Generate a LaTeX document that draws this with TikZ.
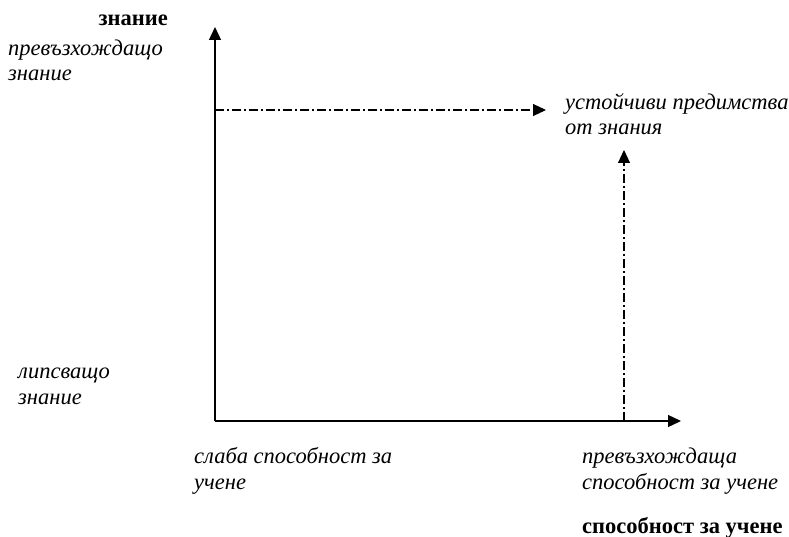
\documentclass[tikz,border=0pt]{standalone}
\usepackage{fontspec}
\setmainfont{Liberation Serif}
\usetikzlibrary{arrows.meta}
\begin{document}
\begin{tikzpicture}[x=1pt,y=-1pt,
  lbl/.style={font=\fontsize{22.5}{25.5}\selectfont\itshape, align=left, inner sep=0pt},
  ttl/.style={font=\fontsize{22.5}{25.5}\selectfont\bfseries, inner sep=0pt},
  axis/.style={line width=1.3pt, -{Triangle[length=13pt,width=12pt]}},
  dd/.style={line width=1.1pt, dash pattern=on 9pt off 3pt on 2pt off 3pt, -{Triangle[length=13pt,width=12pt]}}]
\useasboundingbox (0,0) rectangle (789,537);
\coordinate (O) at (215,421);
\coordinate (ytip) at (215,27);
\coordinate (xtip) at (681,421);
\coordinate (hs) at (215,110);
\coordinate (htip) at (546,110);
\coordinate (vs) at (624,421);
\coordinate (vtip) at (624,150);
\draw[axis] (O) -- (ytip);
\draw[axis] (O) -- (xtip);
\draw[dd] (hs) -- (htip);
\draw[dd] (vs) -- (vtip);
\node[ttl, anchor=east] (yt) at (168,20) {знание};
\node[lbl, anchor=west] (ytop) at (8,60.5) {превъзхождащо\\знание};
\node[lbl, anchor=west] (res) at (565,114) {устойчиви предимства\\от знания};
\node[lbl, anchor=west] (ylow) at (18,386.5) {липсващо\\знание};
\node[lbl, anchor=west] (xlow) at (194,471) {слаба способност за\\учене};
\node[lbl, anchor=west] (xtop) at (582,471) {превъзхождаща\\способност за учене};
\node[ttl, anchor=west] (xt) at (582,528) {способност за учене};
\end{tikzpicture}
\end{document}
